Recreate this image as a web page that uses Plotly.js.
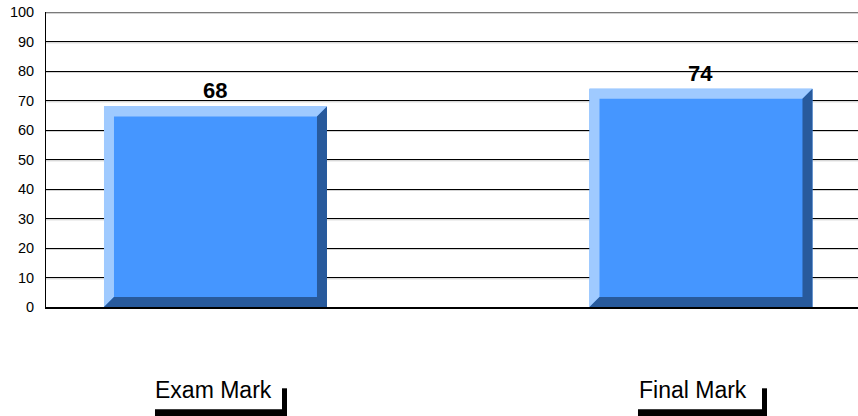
<!DOCTYPE html>
<html>
<head>
<meta charset="utf-8">
<script src="https://cdn.plot.ly/plotly-3.0.1.min.js"></script>
<style>html,body{margin:0;padding:0;background:#fff;}#chart{width:858px;height:416px;}</style>
</head>
<body>
<div id="chart"></div>
<script>
// ---- data ----
const categories = ["Exam Mark", "Final Mark"];
const values = [68, 74];
const yTicks = [0, 10, 20, 30, 40, 50, 60, 70, 80, 90, 100];

// ---- style / layout constants ----
const W = 858, H = 416;
const M = {l: 46, r: 0, t: 12, b: 109};
const xRange = [-0.3491, 1.3234];
const yRange = [0, 100];
const barWidth = 0.4593;
const bevelPx = 10;
const cLight = '#9FCAFF', cMid = '#4596FF', cDark = '#285A9C';

const plotW = W - M.l - M.r, plotH = H - M.t - M.b;
const pxPerX = plotW / (xRange[1] - xRange[0]);
const pxPerY = plotH / (yRange[1] - yRange[0]);
const bx = bevelPx / pxPerX, by = bevelPx / pxPerY;

const xs = categories.map((c, i) => i);
const traces = [];
// main bar face
traces.push({
  type: 'bar', x: xs, y: values, width: barWidth,
  marker: {color: cMid, line: {width: 0}}, hoverinfo: 'skip', showlegend: false
});
// bevel polygons
xs.forEach((x, i) => {
  const v = values[i], x0 = x - barWidth / 2, x1 = x + barWidth / 2;
  traces.push({
    type: 'scatter', mode: 'lines', fill: 'toself', fillcolor: cLight,
    line: {width: 0, color: cLight}, hoverinfo: 'skip', showlegend: false,
    x: [x0, x0, x1, x1 - bx, x0 + bx, x0 + bx, x0],
    y: [0, v, v, v - by, v - by, by, 0]
  });
  traces.push({
    type: 'scatter', mode: 'lines', fill: 'toself', fillcolor: cDark,
    line: {width: 0, color: cDark}, hoverinfo: 'skip', showlegend: false,
    x: [x0, x1, x1, x1 - bx, x1 - bx, x0 + bx, x0],
    y: [0, 0, v, v - by, by, by, 0]
  });
});

const shapes = [];
// subtle gray shadow under each gridline
yTicks.forEach(t => {
  shapes.push({type: 'line', xref: 'paper', yref: 'y', x0: 0, x1: 1,
    y0: t - 1.3 / pxPerY, y1: t - 1.3 / pxPerY, layer: 'below',
    line: {color: '#c8c8c8', width: 1}});
});
// top gridline (at the plot edge)
shapes.push({type: 'line', xref: 'paper', yref: 'y', x0: 0, x1: 1,
  y0: yRange[1], y1: yRange[1], layer: 'below', line: {color: '#000', width: 1}});
// gray shadow under the base line
shapes.push({type: 'line', xref: 'paper', yref: 'y', x0: 0, x1: 1,
  y0: -2 / pxPerY, y1: -2 / pxPerY, layer: 'below', line: {color: '#c8c8c8', width: 1}});

// label shadows (right + bottom bars)
const labelShift = [-1.5, -8];
const shadowX = [[-60.5, 66.5, 71.5], [-63, 61, 66]];
const pyVTop = (306.7 - 388) / plotH, pyBarTop = (306.7 - 409) / plotH, pyBot = (306.7 - 418) / plotH;
xs.forEach((x, i) => {
  const s = shadowX[i];
  shapes.push({type: 'rect', xref: 'x', xsizemode: 'pixel', xanchor: x, x0: s[1], x1: s[2],
    yref: 'paper', y0: pyVTop, y1: pyBot, fillcolor: '#000', line: {width: 0}, layer: 'above'});
  shapes.push({type: 'rect', xref: 'x', xsizemode: 'pixel', xanchor: x, x0: s[0], x1: s[2],
    yref: 'paper', y0: pyBarTop, y1: pyBot, fillcolor: '#000', line: {width: 0}, layer: 'above'});
});

const annotations = [];
xs.forEach((x, i) => {
  annotations.push({x: x, y: values[i], xref: 'x', yref: 'y', text: String(values[i]),
    showarrow: false, yanchor: 'bottom', yshift: 1,
    font: {family: 'Liberation Sans, Arial, sans-serif', size: 22, color: '#000', weight: 'bold'}});
  annotations.push({x: x, y: (306.7 - 390) / plotH, xref: 'x', yref: 'paper', text: categories[i],
    showarrow: false, yanchor: 'middle', xshift: labelShift[i],
    font: {family: 'Liberation Sans, Arial, sans-serif', size: 23, color: '#000'}});
});

const layout = {
  width: W, height: H, margin: M,
  paper_bgcolor: '#fff', plot_bgcolor: '#fff',
  showlegend: false,
  xaxis: {range: xRange, showgrid: false, zeroline: false, showticklabels: false,
    showline: true, linecolor: '#000', linewidth: 2, layer: 'below traces', fixedrange: true},
  yaxis: {range: yRange, tickvals: yTicks, ticktext: yTicks.map(String),
    showgrid: true, gridcolor: '#000', gridwidth: 1, zeroline: false,
    showline: true, linecolor: '#000', linewidth: 1, ticks: '', ticklabelstandoff: 8,
    layer: 'below traces',
    tickfont: {family: 'Liberation Sans, Arial, sans-serif', size: 14.5, color: '#000'}},
  shapes: shapes, annotations: annotations
};

Plotly.newPlot('chart', traces, layout, {displayModeBar: false, staticPlot: true});
</script>
</body>
</html>
